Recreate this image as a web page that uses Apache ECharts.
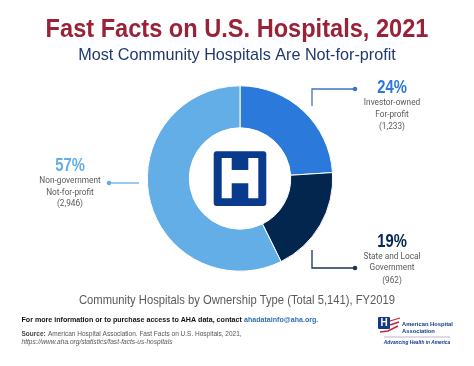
<!DOCTYPE html>
<html><head><meta charset="utf-8">
<style>html,body{margin:0;padding:0;background:#fff}#c{width:474px;height:366px}</style>
<script src="https://cdn.jsdelivr.net/npm/echarts@6/dist/echarts.min.js"></script>
</head><body><div id="c"></div>
<script>
const categories = ['Investor-owned For-profit', 'State and Local Government', 'Non-government Not-for-profit'];
const hospitals = [1233, 962, 2946];
const percentLabels = ['24%', '19%', '57%'];
const colors = ['#2b7adb', '#03264f', '#64aee8'];

const SANS = '"Liberation Sans", sans-serif';
const ROBOTO = 'Roboto, sans-serif';
function txt(x, y, text, size, color, o) {
  o = o || {};
  return { type: 'text', x: x, y: y, z: 10, scaleX: o.sx || 1, style: {
    text: text, fill: color, align: o.align || 'center', verticalAlign: 'middle',
    fontFamily: o.family || ROBOTO, fontSize: size, fontWeight: o.weight || 'normal',
    fontStyle: o.style || 'normal' } };
}
const pct = (x, y, i) => txt(x, y, percentLabels[i], 18.5, colors[i], { family: SANS, weight: 'bold', sx: 0.8 });
const small = (x, y, t) => txt(x, y, t, 9.5, '#5a5a5a', { sx: 0.87 });
function link(points, color) {
  const last = points[points.length - 1];
  return [
    { type: 'polyline', z: 5, shape: { points: points }, style: { stroke: color, lineWidth: 1.3, fill: null } },
    { type: 'circle', z: 5, shape: { cx: last[0], cy: last[1], r: 2.3 }, style: { fill: color } }
  ];
}
const graphics = [
  txt(237, 30, 'Fast Facts on U.S. Hospitals, 2021', 25.5, '#9a2238', { family: SANS, weight: 'bold', sx: 0.925 }),
  txt(237, 56, 'Most Community Hospitals Are Not-for-profit', 16.2, '#1f3a6e', { family: SANS }),

  { type: 'rect', z: 6, shape: { x: 213.7, y: 151.3, width: 52.6, height: 54.7, r: 3 }, style: { fill: '#0a3a8c' } },
  { type: 'polygon', z: 7, shape: { points: [[221.7,158],[231.7,158],[231.7,170],[248.3,170],[248.3,158],[258.3,158],[258.3,198.3],[248.3,198.3],[248.3,183.3],[231.7,183.3],[231.7,198.3],[221.7,198.3]] }, style: { fill: '#fff' } },

  ...link([[312,106],[312,89],[355,89]], '#3f74c0'),
  ...link([[312,250],[312,268],[355,268]], '#1d3557'),
  ...link([[139,183],[109,183]], '#64aee8'),

  pct(392, 88, 0),
  small(392, 103, 'Investor-owned'),
  small(392, 115, 'For-profit'),
  small(392, 127, '(1,233)'),

  pct(392, 242, 1),
  small(392, 257, 'State and Local'),
  small(392, 268, 'Government'),
  small(392, 281, '(962)'),

  pct(70, 166, 2),
  small(70, 181, 'Non-government'),
  small(70, 193, 'Not-for-profit'),
  small(70, 204, '(2,946)'),

  txt(237, 301, 'Community Hospitals by Ownership Type (Total 5,141), FY2019', 12.4, '#5a5a5a', { family: SANS, sx: 0.905 }),
  txt(21.5, 320, 'For more information or to purchase access to AHA data, contact', 7.1, '#111', { family: SANS, weight: 'bold', align: 'left' }),
  txt(244, 320, 'ahadatainfo@aha.org.', 7.1, '#2f6fb5', { family: SANS, weight: 'bold', align: 'left' }),
  txt(21.5, 334, 'Source:', 6.5, '#444', { family: SANS, weight: 'bold', align: 'left' }),
  txt(48, 334, 'American Hospital Association. Fast Facts on U.S. Hospitals, 2021,', 6.5, '#555', { family: SANS, align: 'left' }),
  txt(21.5, 342.5, 'https://www.aha.org/statistics/fast-facts-us-hospitals', 6.6, '#555', { family: SANS, style: 'italic', align: 'left' }),

  { type: 'rect', z: 6, shape: { x: 378, y: 317, width: 12, height: 12, r: 1 }, style: { fill: '#123a86' } },
  txt(384, 323, 'H', 10, '#fff', { family: SANS, weight: 'bold' }),
  { type: 'polyline', z: 6, shape: { points: [[390,321],[400,318]] }, style: { stroke: '#c0263a', lineWidth: 1.3, fill: null } },
  { type: 'polyline', z: 6, shape: { points: [[390,325],[399,322]] }, style: { stroke: '#c0263a', lineWidth: 1.5, fill: null } },
  { type: 'polyline', z: 6, shape: { points: [[380,332],[388,331],[398,326]] }, style: { stroke: '#c0263a', lineWidth: 1.5, fill: null } },
  txt(402, 324.5, 'American Hospital', 5.8, '#123a86', { family: SANS, weight: 'bold', align: 'left' }),
  txt(402, 331.5, 'Association', 5.8, '#123a86', { family: SANS, weight: 'bold', align: 'left' }),
  { type: 'line', z: 6, shape: { x1: 384, y1: 337, x2: 450, y2: 337 }, style: { stroke: '#8a8fa0', lineWidth: 0.6 } },
  txt(417, 343, 'Advancing Health in America', 4.8, '#123a86', { family: SANS, style: 'italic', weight: 'bold' })
];

const chart = echarts.init(document.getElementById('c'), null, { renderer: 'canvas' });
chart.setOption({
  animation: false,
  backgroundColor: '#fff',
  series: [{
    type: 'pie',
    center: [240, 178.5],
    radius: [50.7, 92.7],
    startAngle: 90,
    clockwise: true,
    label: { show: false },
    labelLine: { show: false },
    emphasis: { disabled: true },
    itemStyle: { borderColor: '#fff', borderWidth: 1 },
    data: categories.map((name, i) => ({ name: name, value: hospitals[i], itemStyle: { color: colors[i] } }))
  }],
  graphic: graphics
});
</script></body></html>
